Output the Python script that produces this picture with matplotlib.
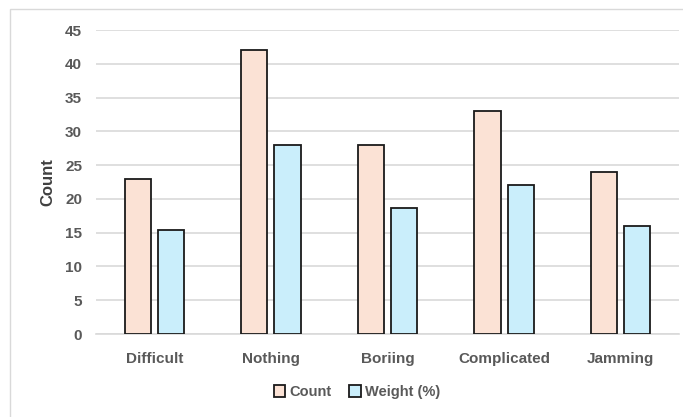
import matplotlib.pyplot as plt
from matplotlib.patches import Rectangle
import numpy as np

categories = ['Difficult', 'Nothing', 'Boriing', 'Complicated', 'Jamming']
count = [23, 42, 28, 33, 24]
weight = [15.33, 28.0, 18.67, 22.0, 16.0]

plt.rcParams['font.family'] = ['Liberation Sans', 'DejaVu Sans']

fig = plt.figure(figsize=(6.83, 4.17), dpi=100)
ax = fig.add_axes([0.1406, 0.199, 0.8535, 0.729])

# outer chart frame
fig.patches.append(Rectangle((10 / 683, -0.1), 1.2, 1 - 9 / 417 + 0.1,
                             transform=fig.transFigure, fill=False,
                             edgecolor='#D9D9D9', linewidth=1))

x = np.arange(len(categories))
w = 0.225
off = 0.142
ax.bar(x - off, count, w, color='#FBE2D5', edgecolor='#1a1a1a',
       linewidth=1.3, label='Count', zorder=3)
ax.bar(x + off, weight, w, color='#CAEEFB', edgecolor='#1a1a1a',
       linewidth=1.3, label='Weight (%)', zorder=3)

ax.set_xlim(-0.5, len(categories) - 0.5)
ax.set_ylim(0, 45)
ax.set_yticks(np.arange(0, 46, 5))
ax.set_xticks(x)
ax.set_xticklabels(categories)
ax.yaxis.grid(True, color='#D9D9D9', linewidth=1.2, zorder=0)
ax.set_axisbelow(True)
for s in ['top', 'right', 'left']:
    ax.spines[s].set_visible(False)
ax.spines['bottom'].set_color('#D9D9D9')
ax.spines['bottom'].set_linewidth(1.2)
ax.tick_params(axis='both', length=0, colors='#595959', labelsize=11)
ax.tick_params(axis='x', pad=13)
ax.tick_params(axis='y', pad=10)
for lab in ax.get_xticklabels() + ax.get_yticklabels():
    lab.set_fontweight('bold')

ax.set_ylabel('Count', fontsize=12, fontweight='bold', color='#404040', labelpad=7)

fig.legend(loc='center', bbox_to_anchor=(357 / 683, 1 - 392 / 417), ncol=2,
           frameon=False, handlelength=0.8, handleheight=0.8, handletextpad=0.3,
           columnspacing=1.2, prop={'weight': 'bold', 'size': 10.5},
           labelcolor='#595959')

fig.savefig('out.png', dpi=100)
